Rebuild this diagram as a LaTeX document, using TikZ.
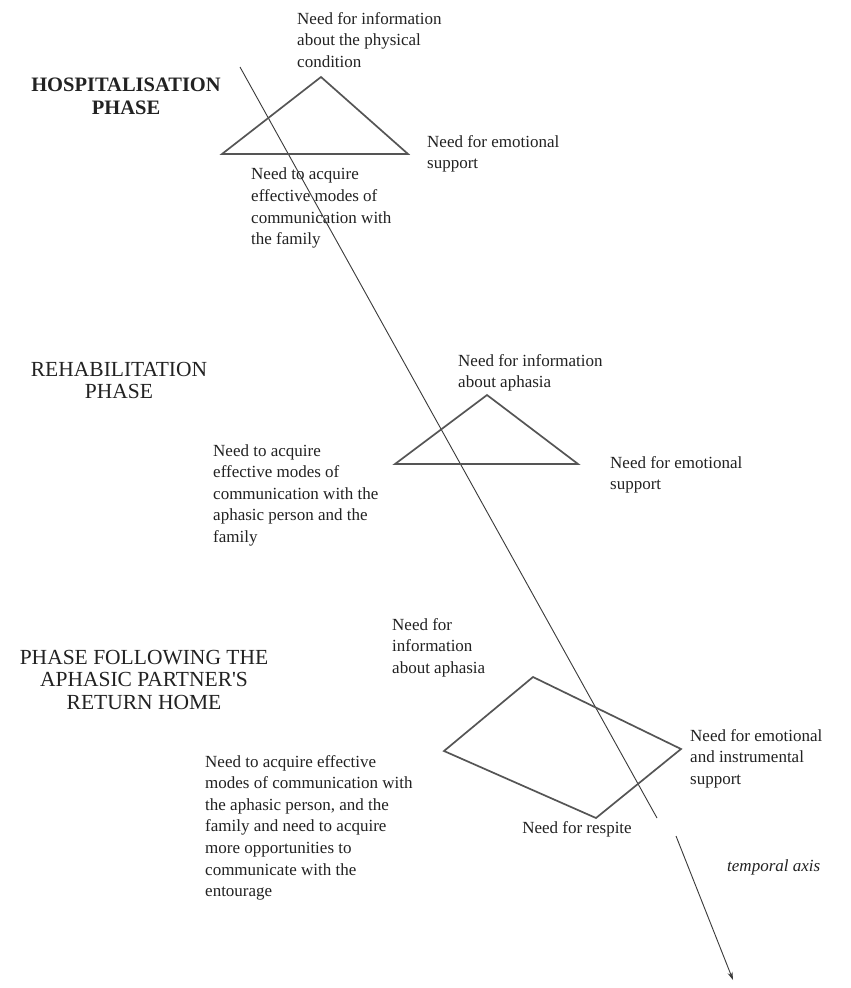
\documentclass[tikz,border=0pt]{standalone}
\usepackage{fontspec}
\setmainfont{Liberation Serif}
% same face without the TeX quote mapping, so ' stays straight
\newfontfamily\plainquote{Liberation Serif}
\usetikzlibrary{arrows.meta}
\definecolor{inkline}{HTML}{555555}
\definecolor{axisline}{HTML}{3A3A3A}
\definecolor{inktext}{HTML}{222222}
\begin{document}
\begin{tikzpicture}[x=1pt,y=-1pt,
  needtext/.style={anchor=north west,inner sep=0pt,align=left,text=inktext,
    font=\fontsize{17}{21.6}\selectfont},
  phasetext/.style={anchor=north,inner sep=0pt,align=center,text=inktext,
    font=\plainquote\fontsize{21.5}{22.5}\selectfont},
  shapeline/.style={draw=inkline,line width=1.7pt,line join=miter},
  axisstyle/.style={draw=axisline,line width=0.9pt}]
\useasboundingbox[fill=white] (0,0) rectangle (851,988);

% time axis
\coordinate (axA) at (240,67);
\coordinate (axB) at (657,818);
\draw[axisstyle] (axA) -- (axB);

% hospitalisation phase
\node[phasetext,font=\bfseries\fontsize{20.5}{22.5}\selectfont] (hosp) at (126,78) {HOSPITALISATION\\PHASE};
\coordinate (t1a) at (321,77);
\coordinate (t1l) at (222,154);
\coordinate (t1r) at (408,154);
\draw[shapeline] (t1a) -- (t1r) -- (t1l) -- cycle;
\node[needtext] (h1) at (297,12) {Need for information\\about the physical\\condition};
\node[needtext] (h2) at (427,135) {Need for emotional\\support};
\node[needtext] (h3) at (251,168) {Need to acquire\\effective modes of\\communication with\\the family};

% rehabilitation phase
\node[phasetext] (rehab) at (119,362) {REHABILITATION\\PHASE};
\coordinate (t2a) at (487,395);
\coordinate (t2l) at (395,464);
\coordinate (t2r) at (578,464);
\draw[shapeline] (t2a) -- (t2r) -- (t2l) -- cycle;
\node[needtext] (r1) at (458,354) {Need for information\\about aphasia};
\node[needtext] (r2) at (610,456) {Need for emotional\\support};
\node[needtext] (r3) at (213,444) {Need to acquire\\effective modes of\\communication with the\\aphasic person and the\\family};

% phase following the return home
\node[phasetext] (home) at (144,650) {PHASE FOLLOWING THE\\APHASIC PARTNER'S\\RETURN HOME};
\coordinate (qt) at (533,677);
\coordinate (qr) at (681,749);
\coordinate (qb) at (596,818);
\coordinate (ql) at (444,751);
\draw[shapeline] (qt) -- (qr) -- (qb) -- (ql) -- cycle;
\node[needtext] (p1) at (392,618) {Need for\\information\\about aphasia};
\node[needtext] (p2) at (690,729) {Need for emotional\\and instrumental\\support};
\node[needtext] (p3) at (205,755) {Need to acquire effective\\modes of communication with\\the aphasic person, and the\\family and need to acquire\\more opportunities to\\communicate with the\\entourage};
\node[needtext,anchor=north] (p4) at (577,821) {Need for respite};

% direction of time
\coordinate (arA) at (676,836);
\coordinate (arB) at (733,980);
\draw[axisstyle,-{Stealth[length=8pt,width=5pt]}] (arA) -- (arB);
\node[needtext,font=\itshape\fontsize{17}{21.6}\selectfont] (tax) at (727,859) {temporal axis};
\end{tikzpicture}
\end{document}
